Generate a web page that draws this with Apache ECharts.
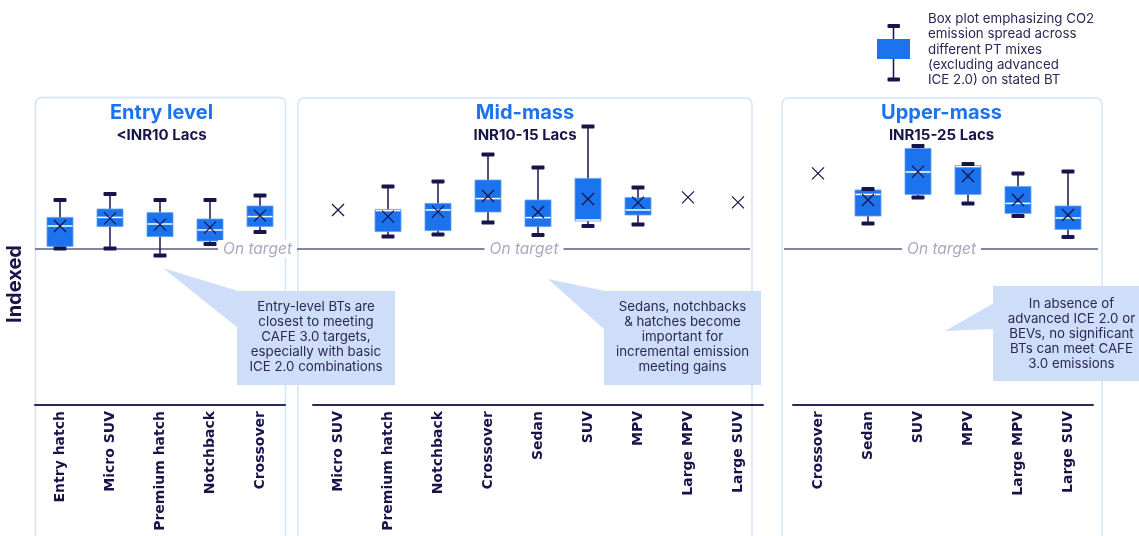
<!DOCTYPE html>
<html>
<head>
<meta charset="utf-8">
<script src="https://cdn.jsdelivr.net/npm/echarts@6/dist/echarts.min.js"></script>
<style>
html,body{margin:0;padding:0;background:#fff;}
#chart{width:1139px;height:536px;}
</style>
</head>
<body>
<div id="chart"></div>
<script>
// ---------- DATA (indexed CO2 emission; target = 100) ----------
const TARGET = 100;

const entryCats = ['Entry hatch', 'Micro SUV', 'Premium hatch', 'Notchback', 'Crossover'];
const entryLow  = [100.3, 100.3, 96.8, 102.5, 108.5];
const entryQ1   = [101.3, 111.2, 106.2, 104.0, 111.2];
const entryMed  = [111.5, 115.8, 112.5, 109.5, 116.2];
const entryQ3   = [115.8, 120.0, 118.2, 115.0, 121.5];
const entryHigh = [124.5, 127.5, 124.5, 124.5, 126.8];
const entryMean = [111.5, 115.3, 112.2, 110.7, 116.7];

const midCats = ['Micro SUV', 'Premium hatch', 'Notchback', 'Crossover', 'Sedan', 'SUV', 'MPV', 'Large MPV', 'Large SUV'];
const midLow  = [null, 106.2, 107.3, 113.2, 107.0, 111.5, 112.3, null, null];
const midQ1   = [null, 108.7, 109.2, 118.5, 111.2, 114.0, 117.0, null, null];
const midMed  = [null, 119.2, 119.5, 125.2, 115.7, 114.5, 119.5, null, null];
const midQ3   = [null, 119.8, 122.8, 134.5, 124.5, 135.3, 125.7, null, null];
const midHigh = [null, 131.2, 133.7, 147.3, 140.8, 161.2, 130.8, null, null];
const midMean = [119.5, 116.2, 118.7, 126.5, 118.5, 125.0, 123.2, 125.8, 123.3];

const upperCats = ['Crossover', 'Sedan', 'SUV', 'MPV', 'Large MPV', 'Large SUV'];
const upperLow  = [null, 112.8, 125.8, 122.8, 116.5, 106.0];
const upperQ1   = [null, 116.5, 127.3, 127.3, 117.8, 109.8];
const upperMed  = [null, 127.3, 138.5, 141.2, 122.8, 115.5];
const upperQ3   = [null, 129.5, 150.3, 141.7, 131.2, 121.5];
const upperHigh = [null, 130.0, 151.5, 142.5, 137.8, 138.7];
const upperMean = [137.8, 124.5, 138.7, 136.5, 124.5, 117.0];

const panelTitles = ['Entry level', 'Mid-mass', 'Upper-mass'];
const panelSubtitles = ['<INR10 Lacs', 'INR10-15 Lacs', 'INR15-25 Lacs'];
const yAxisName = 'Indexed';
const targetLabel = 'On target';
const legendText = 'Box plot emphasizing CO2\nemission spread across\ndifferent PT mixes\n(excluding advanced\nICE 2.0) on stated BT';
const callouts = [
  'Entry-level BTs are\nclosest to meeting\nCAFE 3.0 targets,\nespecially with basic\nICE 2.0 combinations',
  'Sedans, notchbacks\n& hatches become\nimportant for\nincremental emission\nmeeting gains',
  'In absence of\nadvanced ICE 2.0 or\nBEVs, no significant\nBTs can meet CAFE\n3.0 emissions'
];

// ---------- STYLE ----------
const NAVY = '#17144a';
const BLUE = '#1b74ee';
const TEXT = '#2a2759';
const PANEL = '#d3e2f9';
const CALLOUT = '#cfdef8';
const FONT = 'Inter, "Noto Sans", sans-serif';

function build(low, q1, med, q3, high, mean) {
  return mean.map((m, i) => [i, low[i], q1[i], med[i], q3[i], high[i], m]);
}

function renderBox(params, api) {
  const xi = api.value(0);
  const children = [];
  const lowV = api.value(1);
  const meanP = api.coord([xi, api.value(6)]);
  const cx = meanP[0];
  if (!isNaN(lowV)) {
    const yl = api.coord([xi, lowV])[1];
    const y1 = api.coord([xi, api.value(2)])[1];
    const ym = api.coord([xi, api.value(3)])[1];
    const y3 = api.coord([xi, api.value(4)])[1];
    const yh = api.coord([xi, api.value(5)])[1];
    const hw = 13, cw = 6.5;
    children.push({type: 'line', shape: {x1: cx, y1: yh, x2: cx, y2: yl}, style: {stroke: NAVY, lineWidth: 1.5}});
    children.push({type: 'rect', shape: {x: cx - hw, y: y3, width: hw * 2, height: y1 - y3}, style: {fill: BLUE, stroke: '#63a0f4', lineWidth: 0.8}});
    children.push({type: 'line', shape: {x1: cx - hw + 0.5, y1: ym, x2: cx + hw - 0.5, y2: ym}, style: {stroke: '#ffffff', lineWidth: 1.5}});
    children.push({type: 'rect', shape: {x: cx - cw, y: yh - 2, width: cw * 2, height: 4, r: 1}, style: {fill: NAVY}});
    children.push({type: 'rect', shape: {x: cx - cw, y: yl - 2, width: cw * 2, height: 4, r: 1}, style: {fill: NAVY}});
  }
  const s = 6;
  children.push({type: 'line', shape: {x1: cx - s, y1: meanP[1] - s, x2: cx + s, y2: meanP[1] + s}, style: {stroke: NAVY, lineWidth: 1.3}});
  children.push({type: 'line', shape: {x1: cx - s, y1: meanP[1] + s, x2: cx + s, y2: meanP[1] - s}, style: {stroke: NAVY, lineWidth: 1.3}});
  return {type: 'group', children};
}

const grids = [
  {left: 35, width: 250, top: 97, bottom: 131},
  {left: 313, width: 450, top: 97, bottom: 131},
  {left: 793, width: 300, top: 97, bottom: 131}
];
const catsList = [entryCats, midCats, upperCats];
const dataList = [
  build(entryLow, entryQ1, entryMed, entryQ3, entryHigh, entryMean),
  build(midLow, midQ1, midMed, midQ3, midHigh, midMean),
  build(upperLow, upperQ1, upperMed, upperQ3, upperHigh, upperMean)
];

const chart = echarts.init(document.getElementById('chart'), null, {renderer: 'canvas'});
chart.setOption({
  animation: false,
  backgroundColor: '#ffffff',
  grid: grids,
  xAxis: catsList.map((cats, i) => ({
    type: 'category', gridIndex: i, data: cats, boundaryGap: true,
    axisTick: {show: false},
    axisLine: {lineStyle: {color: '#2b2858', width: 2}},
    axisLabel: {rotate: 90, margin: 6, fontSize: 14, fontWeight: 'bold', fontFamily: '"DejaVu Sans", sans-serif', color: NAVY}
  })),
  yAxis: [0, 1, 2].map(i => ({
    type: 'value', gridIndex: i, min: 22, max: 176, show: false, splitLine: {show: false}
  })),
  series: dataList.map((d, i) => ({
    type: 'custom', xAxisIndex: i, yAxisIndex: i, data: d,
    encode: {x: 0, y: [1, 2, 3, 4, 5, 6]},
    renderItem: renderBox, z: 5
  }))
});

const tp = chart.convertToPixel({xAxisIndex: 0, yAxisIndex: 0}, [0, TARGET]);
const ty = Array.isArray(tp) ? tp[1] : 249;

function callout(box, tip, base, text, textX, textTop) {
  return [
    {type: 'polygon', z: 20, shape: {points: [tip, [box.x + 1, base[0]], [box.x + 1, base[1]]]}, style: {fill: CALLOUT}},
    {type: 'rect', z: 20, shape: box, style: {fill: CALLOUT}},
    {type: 'text', z: 21, x: textX, y: textTop, style: {text: text, align: 'center', verticalAlign: 'top', lineHeight: 15, fontSize: 13.3, fontFamily: FONT, fill: TEXT}}
  ];
}

const titleX = [161.5, 525, 941.5];
const onTargetX = [257.5, 524, 941.5];

const graphic = [
  // panels
  {type: 'rect', z: 0, shape: {x: 35.5, y: 97.5, width: 250, height: 470, r: 6}, style: {fill: 'none', stroke: PANEL, lineWidth: 1.5}},
  {type: 'rect', z: 0, shape: {x: 298, y: 98, width: 454, height: 470, r: 6}, style: {fill: 'none', stroke: PANEL, lineWidth: 1.5}},
  {type: 'rect', z: 0, shape: {x: 782, y: 98, width: 320, height: 470, r: 6}, style: {fill: 'none', stroke: PANEL, lineWidth: 1.5}},
  // target lines
  {type: 'line', z: 1, shape: {x1: 35, y1: ty, x2: 750, y2: ty}, style: {stroke: '#5d5b7d', lineWidth: 1.5}},
  {type: 'line', z: 1, shape: {x1: 784, y1: ty, x2: 1098, y2: ty}, style: {stroke: '#5d5b7d', lineWidth: 1.5}},
  // y name
  {type: 'text', z: 5, x: 15, y: 284, rotation: Math.PI / 2, style: {text: yAxisName, align: 'center', verticalAlign: 'middle', fontSize: 20, fontWeight: 'bold', fontFamily: FONT, fill: NAVY}},
  // legend
  {type: 'line', z: 5, shape: {x1: 893.5, y1: 26, x2: 893.5, y2: 79}, style: {stroke: NAVY, lineWidth: 1.5}},
  {type: 'rect', z: 5, shape: {x: 877, y: 39, width: 33, height: 20}, style: {fill: BLUE}},
  {type: 'rect', z: 5, shape: {x: 887.5, y: 24, width: 12.5, height: 4, r: 1}, style: {fill: NAVY}},
  {type: 'rect', z: 5, shape: {x: 887.5, y: 77.5, width: 12.5, height: 4, r: 1}, style: {fill: NAVY}},
  {type: 'text', z: 5, x: 928, y: 11.5, style: {text: legendText, align: 'left', verticalAlign: 'top', lineHeight: 15.2, fontSize: 13.3, fontFamily: FONT, fill: TEXT}}
];
panelTitles.forEach((t, i) => {
  graphic.push({type: 'text', z: 5, x: titleX[i], y: 113, style: {text: t, align: 'center', verticalAlign: 'middle', fontSize: 20, fontWeight: 'bold', fontFamily: FONT, fill: '#1b74ee'}});
  graphic.push({type: 'text', z: 5, x: titleX[i], y: 135, style: {text: panelSubtitles[i], align: 'center', verticalAlign: 'middle', fontSize: 15, fontWeight: 'bold', fontFamily: FONT, fill: NAVY}});
  graphic.push({type: 'text', z: 6, x: onTargetX[i], y: ty, style: {text: targetLabel, align: 'center', verticalAlign: 'middle', fontSize: 15.5, fontStyle: 'italic', fontFamily: FONT, fill: '#a9a7c4', backgroundColor: '#ffffff', padding: [1, 5]}});
});
graphic.push(...callout({x: 237, y: 291, width: 158, height: 94}, [163, 268], [291, 328], callouts[0], 316, 299.5));
graphic.push(...callout({x: 604, y: 291, width: 157, height: 94}, [548, 279], [291, 330], callouts[1], 682.5, 299.5));
graphic.push(...callout({x: 993, y: 286, width: 146, height: 95}, [945, 331], [303, 329], callouts[2], 1071.5, 296));

chart.setOption({graphic: graphic});
</script>
</body>
</html>
